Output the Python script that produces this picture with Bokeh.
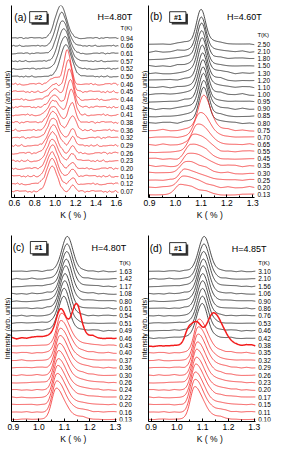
import numpy as np
from bokeh.plotting import figure
from bokeh.models import ColumnDataSource, FixedTicker, PrintfTickFormatter
from bokeh.layouts import column, row
from bokeh.embed import file_html
from bokeh.resources import INLINE
from bokeh.core.properties import value

FONT = "Liberation Sans"
BLACK = "#1e1e1e"
RED = "#f21c1c"

# ---------------- data ----------------
# Panel (a)  sample #2, H = 4.80 T   (curves listed top -> bottom)
A_T = ["0.94", "0.66", "0.61", "0.57", "0.52", "0.50", "0.46", "0.45", "0.44", "0.43", "0.41",
       "0.38", "0.36", "0.32", "0.29", "0.26", "0.23", "0.20", "0.16", "0.12", "0.07"]
A_NBLACK = 6
A_C1 = [1.055, 1.065, 1.075, 1.085, 1.095, 1.105, 1.12, 1.13, 1.14, 1.15, 1.16,
        1.165, 1.17, 1.17, 1.17, 1.17, 1.17, 1.17, 1.17, 1.17, 1.17]
A_A1 = [4.3, 4.3, 4.3, 4.2, 4.2, 4.1, 4.4, 4.2, 4.0, 3.7, 3.3,
        2.6, 1.8, 1.2, 1.1, 1.0, 1.0, 0.9, 0.9, 0.8, 0.8]
A_SL1 = [0.055] * 6 + [0.035] * 7 + [0.025] * 8
A_SR1 = [0.055] * 6 + [0.035] * 7 + [0.025] * 8
A_C2 = [1.0] * 6 + [1.00, 1.00, 0.995, 0.99, 0.99, 0.985, 0.98, 0.98, 0.98, 0.975,
                    0.975, 0.975, 0.97, 0.97, 0.97]
A_A2 = [0.0] * 6 + [0.8, 1.0, 1.3, 1.6, 1.9, 2.2, 2.4, 2.6, 2.7, 2.8, 2.9, 3.0, 3.1, 3.2, 3.3]
A_S2 = [0.05] * 21
A_C3 = [1.0] * 21
A_A3 = [0.0] * 21
A_S3 = [0.05] * 21

# Panel (b)  sample #1, H = 4.60 T
B_T = ["2.50", "2.10", "1.80", "1.50", "1.30", "1.20", "1.10", "1.00", "0.95", "0.90", "0.85",
       "0.80", "0.75", "0.70", "0.65", "0.55", "0.45", "0.35", "0.30", "0.25", "0.20", "0.13"]
B_NBLACK = 12
B_C1 = [1.100, 1.101, 1.102, 1.103, 1.104, 1.105, 1.106, 1.107, 1.108, 1.109, 1.110, 1.110,
        1.110, 1.095, 1.085, 1.070, 1.060, 1.050, 1.040, 1.035, 1.030, 1.020]
B_A1 = [4.2] * 12 + [4.2, 3.0, 2.5, 2.1, 1.9, 1.7, 1.6, 1.5, 1.5, 1.4]
B_SL1 = [0.017] * 12 + [0.02] * 10
B_SR1 = [0.017] * 12 + [0.025, 0.035, 0.04, 0.045, 0.045, 0.045, 0.045, 0.045, 0.045, 0.045]
B_C2 = B_C1[:13] + [1.11] * 9
B_A2 = [0.7] * 13 + [0.6, 0.6, 0.55, 0.5, 0.5, 0.45, 0.45, 0.4, 0.4]
B_S2 = [0.05] * 13 + [0.035] * 9
B_C3 = [1.0] * 22
B_A3 = [0.0] * 22
B_S3 = [0.05] * 22

# Panel (c)  sample #1, H = 4.80 T
C_T = ["1.63", "1.42", "1.17", "1.08", "0.80", "0.61", "0.54", "0.51", "0.49", "0.46", "0.43",
       "0.40", "0.37", "0.36", "0.30", "0.26", "0.24", "0.22", "0.20", "0.16", "0.13"]
C_NBLACK = 9
C_C1 = [1.112, 1.111, 1.110, 1.108, 1.106, 1.104, 1.102, 1.100, 1.098, 1.087, 1.088,
        1.086, 1.084, 1.082, 1.080, 1.078, 1.076, 1.074, 1.072, 1.070, 1.068]
C_A1 = [4.4] * 9 + [3.3] + [4.0] * 11
C_SL1 = [0.021] * 9 + [0.018] + [0.017] * 11
C_SR1 = [0.021] * 9 + [0.018] + [0.03] * 11
C_C2 = C_C1[:9] + [1.147] + [1.13] * 11
C_A2 = [0.3] * 9 + [3.9] + [0.5] * 11
C_S2 = [0.06] * 9 + [0.018] + [0.05] * 11
C_C3 = [1.0] * 9 + [1.12] + [1.0] * 11
C_A3 = [0.0] * 9 + [0.8] + [0.0] * 11
C_S3 = [0.06] * 21

# Panel (d)  sample #1, H = 4.85 T
D_T = ["3.10", "2.10", "1.56", "1.06", "0.90", "0.86", "0.76", "0.53", "0.46", "0.42", "0.38",
       "0.35", "0.32", "0.29", "0.26", "0.23", "0.20", "0.17", "0.15", "0.11", "0.10"]
D_NBLACK = 10
D_C1 = [1.106, 1.105, 1.104, 1.103, 1.102, 1.101, 1.100, 1.100, 1.099, 1.098, 1.142,
        1.085, 1.083, 1.081, 1.079, 1.077, 1.075, 1.073, 1.071, 1.070, 1.069]
D_A1 = [4.4] * 10 + [4.5] + [4.2] * 10
D_SL1 = [0.021] * 10 + [0.025] + [0.017] * 10
D_SR1 = [0.021] * 10 + [0.035] + [0.03] * 10
D_C2 = D_C1[:10] + [1.072] + [1.13] * 10
D_A2 = [0.3] * 10 + [3.2] + [0.5] * 10
D_S2 = [0.06] * 10 + [0.022] + [0.05] * 10
D_C3 = [1.0] * 10 + [1.04] + [1.0] * 10
D_A3 = [0.0] * 10 + [1.0] + [0.0] * 10
D_S3 = [0.06] * 10 + [0.012] + [0.06] * 10

# hand-typed ripple used for the measured noise texture
RIPPLE = [0.3, -0.5, 0.8, -0.2, -0.9, 0.4, 0.1, -0.6, 0.7, -0.3, 0.5, -0.8, 0.2, 0.9, -0.4,
          -0.1, 0.6, -0.7, 0.3, -0.2, 0.8, -0.5, -0.9, 0.4, 0.1, 0.7, -0.3, -0.6, 0.5, 0.2,
          -0.8, 0.9, -0.4, 0.6, -0.1, 0.3, -0.7]


def agauss(x, c, a, sl, sr):
    s = np.where(x < c, sl, sr)
    return a * np.exp(-0.5 * ((x - c) / s) ** 2)


def ripple(xs, idx, node_step, amp):
    nodes = np.arange(xs[0], xs[-1] + node_step, node_step)
    vals = np.array([RIPPLE[(k * 5 + idx * 11) % len(RIPPLE)] for k in range(len(nodes))])
    return amp * np.interp(xs, nodes, vals)


def make_panel(w, h, xr, yr, bounds, ticks, minor, btop, bbot):
    p = figure(width=w, height=h, x_range=xr, y_range=yr, output_backend="svg",
               toolbar_location=None, min_border_left=11, min_border_right=0,
               min_border_top=btop, min_border_bottom=bbot)
    p.outline_line_color = None
    p.xgrid.visible = False
    p.ygrid.visible = False
    p.background_fill_color = "white"
    p.xaxis.bounds = bounds
    p.xaxis.ticker = FixedTicker(ticks=ticks, minor_ticks=minor)
    p.xaxis.formatter = PrintfTickFormatter(format="%.1f")
    p.xaxis.major_tick_in = 3
    p.xaxis.major_tick_out = 0
    p.xaxis.minor_tick_in = 2
    p.xaxis.minor_tick_out = 0
    p.xaxis.axis_line_color = "black"
    p.xaxis.major_label_text_font = FONT
    p.xaxis.major_label_text_font_size = "8.5px"
    p.xaxis.major_label_text_color = "black"
    p.xaxis.major_label_standoff = 2
    p.xaxis.axis_label = "K  ( % )"
    p.xaxis.axis_label_text_font = FONT
    p.xaxis.axis_label_text_font_size = "8.5px"
    p.xaxis.axis_label_text_font_style = "normal"
    p.xaxis.axis_label_text_color = "black"
    p.xaxis.axis_label_standoff = 1
    p.yaxis.ticker = FixedTicker(ticks=[])
    p.yaxis.major_label_text_font_size = "0px"
    p.yaxis.major_tick_out = 0
    p.yaxis.minor_tick_out = 0
    p.yaxis.axis_line_color = "black"
    p.yaxis.axis_label = "Intensity (arb. units)"
    p.yaxis.axis_label_text_font = FONT
    p.yaxis.axis_label_text_font_size = "7px"
    p.yaxis.axis_label_text_font_style = "normal"
    p.yaxis.axis_label_text_color = "black"
    p.yaxis.axis_label_standoff = 1
    return p


def draw_curves(p, T, nblack, c1, a1, sl1, sr1, c2, a2, s2, c3, a3, s3,
                bounds, node_step, namp_black, namp_red, thick, label_x):
    n = len(T)
    xs = np.arange(bounds[0], bounds[1] + 1e-9, 0.002)
    for i in range(n):
        off = n - 1 - i
        ys = (off + agauss(xs, c1[i], a1[i], sl1[i], sr1[i])
              + agauss(xs, c2[i], a2[i], s2[i], s2[i])
              + agauss(xs, c3[i], a3[i], s3[i], s3[i]))
        amp = namp_black if i < nblack else namp_red
        if i == thick:
            amp = amp * 1.8
        ys = ys + ripple(xs, i, node_step, amp)
        col = BLACK if i < nblack else RED
        lw = 1.5 if i == thick else (0.8 if i < nblack else 0.75)
        p.line(xs, ys, line_color=col, line_width=lw)
    src = ColumnDataSource(dict(x=[label_x] * n, y=[n - 1 - i for i in range(n)], t=T))
    p.text(x="x", y="y", text="t", source=src, text_font=value(FONT),
           text_font_size="6.5px", text_baseline="middle", text_align="left",
           text_color="black")


def decorate(p, letter, sample, field, lx, ly, bx0, bx1, by0, by1, sdx, sdy, hx, tx, ty):
    p.text(x=[lx], y=[ly], text=[letter], text_font=value(FONT), text_font_size="10px",
           text_baseline="middle", text_align="left", text_color="black")
    p.quad(left=[bx0 + sdx], right=[bx1 + sdx], bottom=[by0 + sdy], top=[by1 + sdy],
           fill_color="#3a3a3a", line_color=None)
    p.quad(left=[bx0], right=[bx1], bottom=[by0], top=[by1],
           fill_color="white", line_color="black", line_width=0.8)
    p.text(x=[(bx0 + bx1) / 2], y=[(by0 + by1) / 2], text=[sample], text_font=value(FONT),
           text_font_size="7px", text_font_style="bold", text_baseline="middle",
           text_align="center", text_color="black")
    p.text(x=[hx], y=[ly], text=[field], text_font=value(FONT), text_font_size="9px",
           text_baseline="middle", text_align="left", text_color="black")
    p.text(x=[tx], y=[ty], text=["T(K)"], text_font=value(FONT), text_font_size="6px",
           text_baseline="middle", text_align="left", text_color="black")


# ---------------- panel (a) ----------------
a_bounds = (0.572, 1.62)
pa = make_panel(137, 228, (0.572, 1.807), (-0.78, 24.25), a_bounds,
                [0.6, 0.8, 1.0, 1.2, 1.4, 1.6], [0.7, 0.9, 1.1, 1.3, 1.5], 5, 31)
draw_curves(pa, A_T, A_NBLACK, A_C1, A_A1, A_SL1, A_SR1, A_C2, A_A2, A_S2, A_C3, A_A3, A_S3,
            a_bounds, 0.02, 0.09, 0.14, -1, 1.64)
decorate(pa, "(a)", "#2", "H=4.80T", 0.6, 22.75, 0.75, 0.92, 22.0, 23.45, 0.018, -0.26,
         1.415, 1.64, 21.3)

# ---------------- panel (b) ----------------
b_bounds = (0.896, 1.307)
pb = make_panel(136, 228, (0.896, 1.3805), (-0.42, 26.47), b_bounds,
                [0.9, 1.0, 1.1, 1.2, 1.3], [0.95, 1.05, 1.15, 1.25], 5, 31)
draw_curves(pb, B_T, B_NBLACK, B_C1, B_A1, B_SL1, B_SR1, B_C2, B_A2, B_S2, B_C3, B_A3, B_S3,
            b_bounds, 0.028, 0.14, 0.14, -1, 1.318)
decorate(pb, "(b)", "#1", "H=4.60T", 0.902, 24.9, 0.978, 1.041, 24.1, 25.6, 0.008, -0.28,
         1.2, 1.318, 22.4)

# ---------------- panel (c) ----------------
c_bounds = (0.893, 1.305)
pc = make_panel(137, 220, (0.893, 1.387), (-0.27, 24.86), c_bounds,
                [0.9, 1.0, 1.1, 1.2, 1.3], [0.95, 1.05, 1.15, 1.25], 7, 27)
draw_curves(pc, C_T, C_NBLACK, C_C1, C_A1, C_SL1, C_SR1, C_C2, C_A2, C_S2, C_C3, C_A3, C_S3,
            c_bounds, 0.02, 0.1, 0.08, 9, 1.315)
decorate(pc, "(c)", "#1", "H=4.80T", 0.898, 23.2, 0.967, 1.031, 22.4, 24.05, 0.008, -0.27,
         1.207, 1.315, 21.1)

# ---------------- panel (d) ----------------
d_bounds = (0.89, 1.305)
pd = make_panel(136, 220, (0.89, 1.3745), (-0.27, 24.86), d_bounds,
                [0.9, 1.0, 1.1, 1.2, 1.3], [0.95, 1.05, 1.15, 1.25], 7, 27)
draw_curves(pd, D_T, D_NBLACK, D_C1, D_A1, D_SL1, D_SR1, D_C2, D_A2, D_S2, D_C3, D_A3, D_S3,
            d_bounds, 0.02, 0.08, 0.08, 10, 1.315)
decorate(pd, "(d)", "#1", "H=4.85T", 0.895, 23.1, 0.972, 1.036, 22.4, 23.9, 0.008, -0.27,
         1.213, 1.315, 21.1)

layout = column(row(pa, pb), row(pc, pd))
open("out.html", "w").write(file_html(layout, INLINE))
